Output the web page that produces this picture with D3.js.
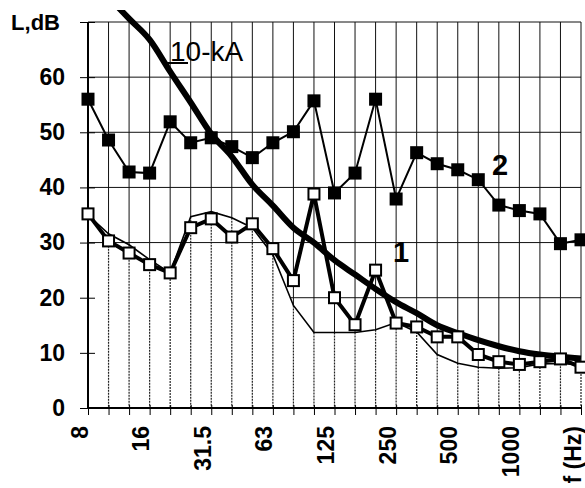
<!DOCTYPE html>
<html>
<head>
<meta charset="utf-8">
<script src="https://cdn.jsdelivr.net/npm/d3@7"></script>
<style>
  body { margin: 0; background: #fff; }
</style>
</head>
<body>
<div id="chart"></div>
<script>
// third-octave bands, Hz
const bands = ['8', '10', '12.5', '16', '20', '25', '31.5', '40', '50', '63', '80', '100', '125',
  '160', '200', '250', '315', '400', '500', '630', '800', '1000', '1250', '1600', '2000'];

// curve 2 (filled squares)
const series2 = [56, 48.6, 42.8, 42.6, 51.9, 48.1, 49, 47.4, 45.4, 48.1, 50.1, 55.7, 39,
  42.6, 56, 37.9, 46.3, 44.3, 43.2, 41.4, 36.8, 35.8, 35.2, 29.8, 30.5];

// curve 1 (open squares)
const series1 = [35.2, 30.3, 28.1, 26, 24.5, 32.7, 34.3, 31, 33.4, 28.9, 23.1, 38.8, 20,
  15.1, 25, 15.4, 14.7, 12.9, 12.9, 9.7, 8.4, 7.9, 8.4, 8.9, 7.4];

// thin background curve
const thinCurve = [35, 31.6, 29.6, 26.9, 24.5, 34.7, 35.6, 34.5, 32.7, 27.8, 18.6, 13.7, 13.7,
  13.7, 14.2, 15.5, 13.8, 9.7, 8.1, 7.4, 7.2, 7.3, 8, 8.1, 7.8];

// 10-kA reference curve
const kaCurve = [null, 74.5, 70.6, 66.8, 61, 55.4, 49.7, 45.6, 40.5, 36.7, 32.7, 30, 26.8,
  24.2, 21.6, 19.2, 17.2, 15, 13.6, 12.3, 11.2, 10.3, 9.7, 9.3, 9.0];

const yTicks = [0, 10, 20, 30, 40, 50, 60, 70];
const gridLevels = [30, 40, 50, 60, 70];
const xLabels = {
  '8': '8', '16': '16', '31.5': '31.5', '63': '63', '125': '125',
  '250': '250', '500': '500', '1000': '1000', '2000': 'f (Hz)',
};

const margin = { top: 22, right: 4, bottom: 80, left: 88 };
const width = 585 - margin.left - margin.right;
const height = 488 - margin.top - margin.bottom;

const root = d3.select('#chart').append('svg')
  .attr('width', 585)
  .attr('height', 488)
  .style('font-family', '"Liberation Sans", Arial, sans-serif');

const svg = root.append('g')
  .attr('transform', `translate(${margin.left},${margin.top})`);

const x = d3.scalePoint().domain(bands).range([0, width]);
const y = d3.scaleLinear().domain([0, 70]).range([height, 0]);

const pts = arr => arr.map((v, i) => ({ band: bands[i], v })).filter(d => d.v != null);

// 20 dB grid line sits under the white area of the thin curve
svg.append('line')
  .attr('x1', 0).attr('x2', width)
  .attr('y1', y(20)).attr('y2', y(20))
  .attr('stroke', '#111');

svg.append('path')
  .datum(pts(thinCurve))
  .attr('d', d3.area().x(d => x(d.band)).y0(y(0)).y1(d => y(d.v)))
  .attr('fill', '#fff');

// hatching under the thin curve
svg.selectAll('.drop')
  .data(pts(thinCurve))
  .join('line')
  .attr('class', 'drop')
  .attr('x1', d => x(d.band)).attr('x2', d => x(d.band))
  .attr('y1', d => y(d.v)).attr('y2', y(0))
  .attr('stroke', '#222')
  .attr('stroke-width', 1.2)
  .attr('stroke-dasharray', '2,1');

// vertical grid above the thin curve
svg.selectAll('.vgrid')
  .data(pts(thinCurve))
  .join('line')
  .attr('class', 'vgrid')
  .attr('x1', d => x(d.band)).attr('x2', d => x(d.band))
  .attr('y1', y(70)).attr('y2', d => y(d.v))
  .attr('stroke', '#111');

svg.selectAll('.hgrid')
  .data(gridLevels)
  .join('line')
  .attr('class', 'hgrid')
  .attr('x1', 0).attr('x2', width)
  .attr('y1', d => y(d)).attr('y2', d => y(d))
  .attr('stroke', '#111');

svg.append('path')
  .datum(pts(thinCurve))
  .attr('d', d3.line().x(d => x(d.band)).y(d => y(d.v)))
  .attr('fill', 'none')
  .attr('stroke', '#000')
  .attr('stroke-width', 1.6);

// axes
const yAxis = svg.append('g')
  .call(d3.axisLeft(y).tickValues(yTicks).tickSize(8).tickPadding(15)
    .tickFormat(d => d === 70 ? 'L,dB' : d));
yAxis.attr('font-size', null).attr('font-family', null);
yAxis.select('.domain').remove();
yAxis.selectAll('line').attr('x1', 7).attr('stroke', '#000');
yAxis.selectAll('text')
  .style('font-size', '23px')
  .style('font-weight', 'bold')
  .attr('fill', '#000')
  .filter(d => d === 70)
  .attr('x', -28)
  .style('font-size', '22px');

const xAxis = svg.append('g')
  .attr('transform', `translate(0,${height})`)
  .call(d3.axisBottom(x).tickSize(7).tickFormat(d => xLabels[d] || ''));
xAxis.attr('font-size', null).attr('font-family', null);
xAxis.select('.domain').remove();
xAxis.selectAll('line').attr('y1', -3).attr('stroke', '#000');
xAxis.selectAll('text')
  .attr('transform', 'rotate(-90)')
  .attr('text-anchor', 'end')
  .attr('x', -18)
  .attr('y', -1)
  .attr('dy', 0)
  .attr('fill', '#000')
  .style('font-size', '23px')
  .style('font-weight', 'bold');

svg.append('line')
  .attr('x1', 0).attr('x2', 0).attr('y1', y(70)).attr('y2', y(0))
  .attr('stroke', '#000').attr('stroke-width', 2);
svg.append('line')
  .attr('x1', 0).attr('x2', width).attr('y1', y(0)).attr('y2', y(0))
  .attr('stroke', '#000').attr('stroke-width', 2);

// 10-kA curve, cut near the top of the picture
svg.append('clipPath').attr('id', 'clip')
  .append('rect')
  .attr('x', -10).attr('y', -12)
  .attr('width', width + 20).attr('height', height + 12);

svg.append('path')
  .datum(kaCurve)
  .attr('clip-path', 'url(#clip)')
  .attr('d', d3.line()
    .defined(d => d != null)
    .x((d, i) => x(bands[i]))
    .y(d => y(d))
    .curve(d3.curveMonotoneX))
  .attr('fill', 'none')
  .attr('stroke', '#000')
  .attr('stroke-width', 6);

// curve 2
svg.append('path')
  .datum(pts(series2))
  .attr('d', d3.line().x(d => x(d.band)).y(d => y(d.v)))
  .attr('fill', 'none')
  .attr('stroke', '#000')
  .attr('stroke-width', 2);

svg.selectAll('.sq2')
  .data(pts(series2))
  .join('rect')
  .attr('class', 'sq2')
  .attr('x', d => x(d.band) - 6.5).attr('y', d => y(d.v) - 6.5)
  .attr('width', 13).attr('height', 13)
  .attr('fill', '#000');

// curve 1
svg.append('path')
  .datum(pts(series1))
  .attr('d', d3.line().x(d => x(d.band)).y(d => y(d.v)))
  .attr('fill', 'none')
  .attr('stroke', '#000')
  .attr('stroke-width', 4);

svg.selectAll('.sq1')
  .data(pts(series1))
  .join('rect')
  .attr('class', 'sq1')
  .attr('x', d => x(d.band) - 5.5).attr('y', d => y(d.v) - 5.5)
  .attr('width', 11).attr('height', 11)
  .attr('fill', '#fff')
  .attr('stroke', '#000')
  .attr('stroke-width', 2);

// labels
svg.append('line')
  .attr('x1', 77).attr('x2', 100).attr('y1', 41).attr('y2', 41)
  .attr('stroke', '#000').attr('stroke-width', 2);
svg.append('text')
  .attr('x', 82).attr('y', 39)
  .style('font-size', '28px')
  .text('10-kA');

svg.append('text')
  .attr('x', 412).attr('y', 153)
  .attr('text-anchor', 'middle')
  .style('font-size', '29px')
  .style('font-weight', 'bold')
  .text('2');

svg.append('text')
  .attr('x', 313).attr('y', 240)
  .attr('text-anchor', 'middle')
  .style('font-size', '29px')
  .style('font-weight', 'bold')
  .text('1');
</script>
</body>
</html>
